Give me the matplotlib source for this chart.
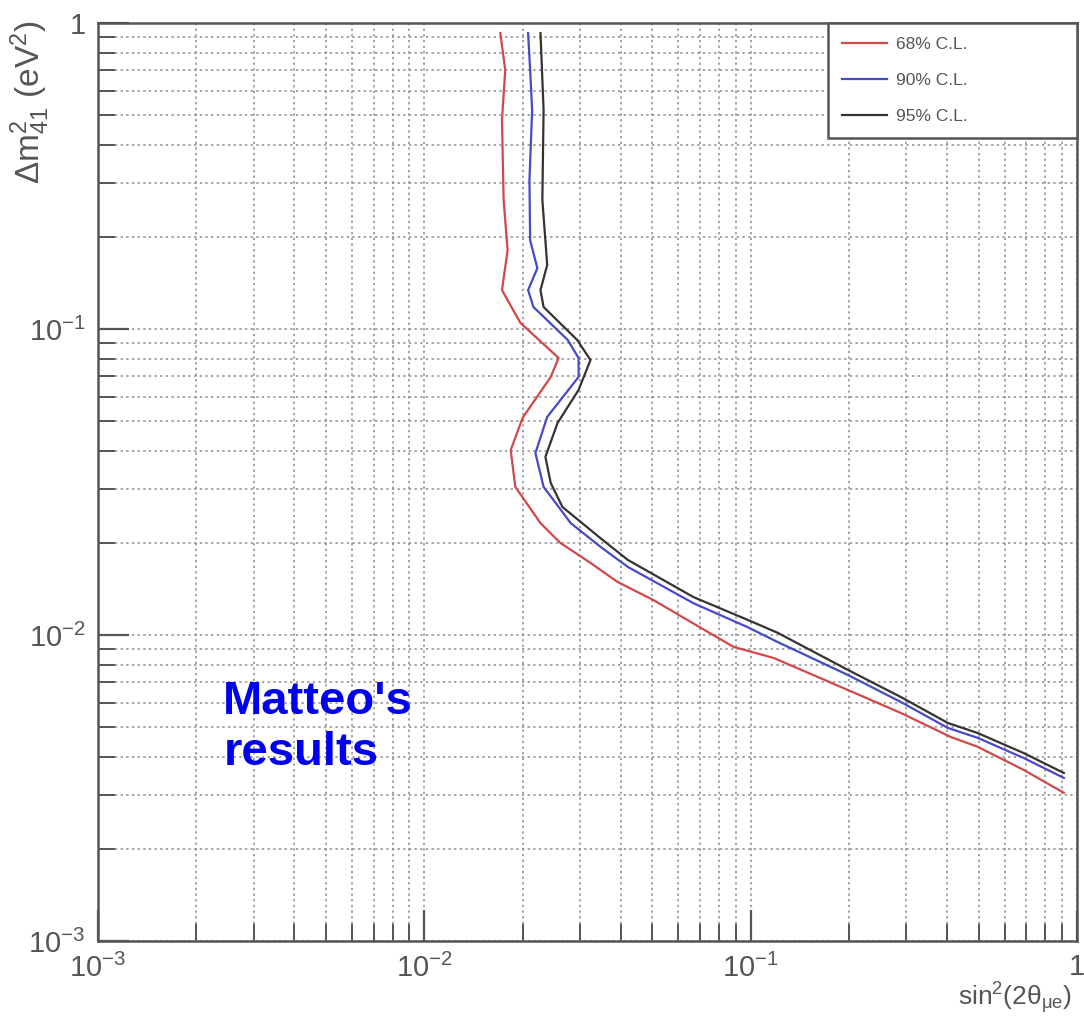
import matplotlib
matplotlib.use("Agg")
import matplotlib.pyplot as plt
from matplotlib.ticker import FixedLocator, FixedFormatter, LogLocator, NullFormatter

plt.rcParams["font.family"] = ["Liberation Sans Narrow", "Liberation Sans", "DejaVu Sans"]
plt.rcParams["mathtext.default"] = "regular"

# 68% C.L. contour
red_x = [0.0171, 0.0177, 0.0173, 0.0175, 0.0180, 0.0173, 0.0197, 0.0258, 0.0244,
         0.0200, 0.0184, 0.0190, 0.0227, 0.0261, 0.0323, 0.0391, 0.0504, 0.0668,
         0.0887, 0.1177, 0.1986, 0.2886, 0.4106, 0.4966, 0.6873, 0.9117]
red_y = [0.927, 0.702, 0.482, 0.264, 0.181, 0.134, 0.1047, 0.0804, 0.0697,
         0.0512, 0.0402, 0.0305, 0.0232, 0.0200, 0.0172, 0.0149, 0.0130, 0.0109,
         0.00914, 0.00841, 0.00661, 0.00556, 0.00464, 0.00431, 0.00362, 0.00305]

# 90% C.L. contour
blue_x = [0.0208, 0.0211, 0.0214, 0.0210, 0.0211, 0.0222, 0.0208, 0.0216, 0.0275,
          0.0297, 0.0297, 0.0238, 0.0219, 0.0232, 0.0281, 0.0347, 0.0420, 0.0668,
          0.0980, 0.1211, 0.1986, 0.2886, 0.4018, 0.4966, 0.6873, 0.9117]
blue_y = [0.927, 0.702, 0.519, 0.307, 0.195, 0.158, 0.134, 0.118, 0.0921,
          0.0804, 0.0697, 0.0516, 0.0393, 0.0305, 0.0232, 0.0194, 0.0167, 0.0127,
          0.0106, 0.00948, 0.00740, 0.00604, 0.00497, 0.00461, 0.00396, 0.00341]

# 95% C.L. contour
black_x = [0.0227, 0.0232, 0.0230, 0.0238, 0.0227, 0.0232, 0.0294, 0.0323, 0.0297,
           0.0256, 0.0235, 0.0244, 0.0265, 0.0347, 0.0420, 0.0668, 0.0980, 0.1211,
           0.1986, 0.2886, 0.4018, 0.4966, 0.6873, 0.9117]
black_y = [0.927, 0.519, 0.264, 0.162, 0.134, 0.118, 0.0921, 0.0792, 0.0632,
           0.0493, 0.0382, 0.0314, 0.0262, 0.0207, 0.0176, 0.0133, 0.0112, 0.01016,
           0.00769, 0.00627, 0.00516, 0.00478, 0.00411, 0.00354]

series_labels = ["68% C.L.", "90% C.L.", "95% C.L."]
series_colors = ["#d24848", "#4848cc", "#333333"]

decades = [1e-3, 1e-2, 1e-1, 1]
x_ticklabels = ["$10^{-3}$", "$10^{-2}$", "$10^{-1}$", "1"]
y_ticklabels = ["$10^{-3}$", "$10^{-2}$", "$10^{-1}$", "1"]

fig = plt.figure(figsize=(10.84, 10.23), dpi=100)
ax = fig.add_axes([0.0904, 0.0802, 0.9031, 0.8973])

for xs, ys, lab, col in zip([red_x, blue_x, black_x], [red_y, blue_y, black_y],
                            series_labels, series_colors):
    ax.plot(xs, ys, color=col, lw=1.6, label=lab, zorder=3)

ax.set_xscale("log")
ax.set_yscale("log")
ax.set_xlim(1e-3, 1)
ax.set_ylim(1e-3, 1)

for axis, labels in [(ax.xaxis, x_ticklabels), (ax.yaxis, y_ticklabels)]:
    axis.set_major_locator(FixedLocator(decades))
    axis.set_major_formatter(FixedFormatter(labels))
    axis.set_minor_locator(LogLocator(base=10, subs=range(2, 10)))
    axis.set_minor_formatter(NullFormatter())

ax.grid(True, which="both", color="#8a8a8a", lw=1.1, linestyle=(0, (1.5, 2.2)), zorder=1)
ax.tick_params(which="major", direction="in", length=22, width=1.6, color="#555555",
               labelsize=21, labelcolor="#555555", pad=9)
ax.tick_params(which="minor", direction="in", length=12, width=1.4, color="#555555")
for sp in ax.spines.values():
    sp.set_color("#555555")
    sp.set_linewidth(1.8)

ax.text(-0.069, 1.003, r"$\Delta$m$^{2}_{41}$ (eV$^{2}$)", transform=ax.transAxes,
        rotation=90, ha="center", va="top", fontsize=24, color="#555555")
ax.text(0.995, -0.062, r"sin$^{2}$(2$\theta_{\mu e}$)", transform=ax.transAxes,
        ha="right", va="center", fontsize=19, color="#555555")

ax.text(0.128, 0.284, "Matteo's\nresults", transform=ax.transAxes, ha="left", va="top",
        fontsize=34, fontweight="bold", color="#0000f0", linespacing=1.2,
        family=["Liberation Sans", "DejaVu Sans"], zorder=4)

leg = ax.legend(loc="upper left", bbox_to_anchor=(0.7457, 0.0, 0.2543, 1.0),
                mode="expand", borderaxespad=0, fontsize=12.5, handlelength=2.6,
                handletextpad=0.5, labelspacing=1.2, borderpad=0.8, fancybox=False,
                framealpha=1, edgecolor="#555555")
leg.get_frame().set_linewidth(1.8)
for t in leg.get_texts():
    t.set_color("#555555")

fig.savefig("out.png", dpi=100)
